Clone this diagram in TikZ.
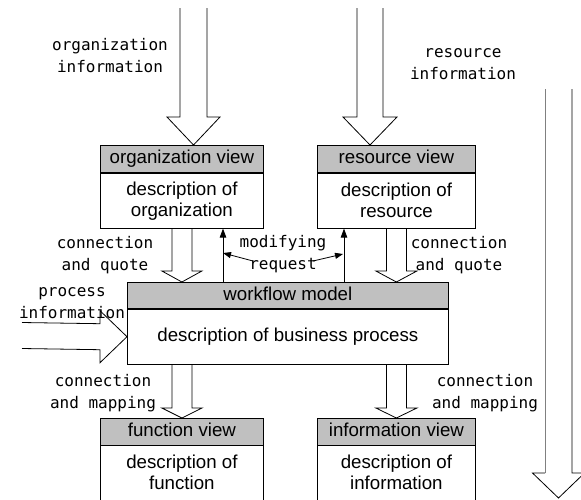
\documentclass[tikz,border=0pt]{standalone}
\usepackage{fontspec}
\setmainfont{Liberation Sans}
\setmonofont{DejaVu Sans Mono}
\usetikzlibrary{calc,arrows.meta}

\definecolor{hdrgray}{RGB}{192,192,192}
\newcommand\boxfont{\fontsize{18.7}{21}\selectfont}
\newcommand\lblfont{\ttfamily\fontsize{16}{22}\selectfont}

% hollow block arrow pointing down: #1 start, #2 tip, #3 shaft half width,
% #4 head half width, #5 head length
\newcommand\fatdown[5]{%
  \draw[fat] ($(#1)+(-#3,0)$) -- ($(#2)+(-#3,-#5)$) -- ($(#2)+(-#4,-#5)$)
    -- (#2) -- ($(#2)+(#4,-#5)$) -- ($(#2)+(#3,-#5)$) -- ($(#1)+(#3,0)$);}

\begin{document}
\begin{tikzpicture}[x=1pt,y=-1pt,line width=0.8pt,
  hdr/.style={draw,fill=hdrgray,inner sep=0pt,font=\boxfont,anchor=north west,
    minimum height=27pt,text height=13.5pt,text depth=3.5pt},
  bodybox/.style={draw,fill=white,inner sep=0pt,font=\boxfont,align=center,anchor=north},
  lbl/.style={font=\lblfont,align=center,inner sep=0pt},
  fat/.style={draw,line join=miter},
  tip/.style={-{Triangle[length=9pt,width=6.5pt]}},
  smalltip/.style={-{Triangle[length=8pt,width=6pt]}}]
\useasboundingbox (0,0) rectangle (581,499);

% view boxes
\node[hdr,minimum width=163pt] (orghead) at (100,145) {organization view};
\node[bodybox,minimum width=163pt,minimum height=55pt] (orgbody) at (orghead.south)
  {description of\\organization};
\node[hdr,minimum width=158pt] (reshead) at (317,145) {resource view};
\node[bodybox,minimum width=158pt,minimum height=55pt] (resbody) at (reshead.south)
  {description of\\resource};
\node[hdr,minimum width=321pt,minimum height=26pt] (wfhead) at (127,282) {workflow model};
\node[bodybox,minimum width=321pt,minimum height=55pt] (wfbody) at (wfhead.south)
  {description of business process};
\node[hdr,minimum width=163pt] (funhead) at (100,418) {function view};
\node[bodybox,draw=none,minimum width=163pt,minimum height=52pt] (funbody) at (funhead.south)
  {description of\\function};
\draw (funbody.north west) -- ++(0,70) (funbody.north east) -- ++(0,70);
\node[hdr,minimum width=158pt] (infohead) at (317,418) {information view};
\node[bodybox,draw=none,minimum width=158pt,minimum height=52pt] (infobody) at (infohead.south)
  {description of\\information};
\draw (infobody.north west) -- ++(0,70) (infobody.north east) -- ++(0,70);

% incoming information
\coordinate (oitop) at (193.5,8);
\coordinate (oitip) at (oitop |- orghead.north);
\fatdown{oitop}{oitip}{13.5}{26.5}{28}
\coordinate (ritop) at (370,8);
\coordinate (ritip) at (ritop |- reshead.north);
\fatdown{ritop}{ritip}{13}{27}{28}

% connection and quote
\coordinate (cqltip) at (orgbody.south |- wfhead.north);
\fatdown{orgbody.south}{cqltip}{10}{20}{11}
\coordinate (cqrtip) at (resbody.south |- wfhead.north);
\fatdown{resbody.south}{cqrtip}{10}{20.5}{11}

% connection and mapping
\coordinate (cmlstart) at (wfbody.south -| funhead.north);
\fatdown{cmlstart}{funhead.north}{10}{20}{10}
\coordinate (cmrstart) at (wfbody.south -| infohead.north);
\fatdown{cmrstart}{infohead.north}{10}{20.5}{10}

% process information
\coordinate (pstart) at (22,335.5);
\draw[fat] ($(pstart)+(0,-13)$) -- ($(wfbody.west)+(-27,-13)$) -- ($(wfbody.west)+(-27,-26)$)
  -- (wfbody.west) -- ($(wfbody.west)+(-27,26)$) -- ($(wfbody.west)+(-27,13)$)
  -- ($(pstart)+(0,13)$);

% long arrow on the right
\coordinate (bigtop) at (558.5,89);
\coordinate (bigtip) at (558.5,498);
\draw[gray] ($(bigtop)+(-13.5,0)$) -- ($(bigtip)+(-13.5,-25)$);
\draw[fat] ($(bigtip)+(-13.5,-25)$) -- ($(bigtip)+(-26,-25)$) -- (bigtip)
  -- ($(bigtip)+(26,-25)$) -- ($(bigtip)+(13.5,-25)$) -- ($(bigtop)+(13.5,0)$);

% modifying request
\coordinate (ml) at (223,0);
\coordinate (mr) at (344,0);
\draw[tip] (ml |- wfhead.north) -- (ml |- orgbody.south);
\draw[tip] (mr |- wfhead.north) -- (mr |- resbody.south);

% labels
\node[lbl] (orginfo) at (110,56) {organization\\information};
\node[lbl] (resinfo) at (463,64) {resource\\information};
\node[lbl] (cq1) at (105,255) {connection\\and quote};
\node[lbl] (cq2) at (459,255) {connection\\and quote};
\node[lbl] (procinfo) at (72,303) {process\\information};
\node[lbl] (modreq) at (283,254) {modifying\\request};
\node[lbl] (cm1) at (103,393) {connection\\and mapping};
\node[lbl] (cm2) at (485,393) {connection\\and mapping};

\coordinate (mra) at (253,261);
\coordinate (mrb) at (313,261);
\draw[smalltip] (mra) -- (ml |- 0,253);
\draw[smalltip] (mrb) -- ($(mr |- 0,254)+(-1,0)$);
\end{tikzpicture}
\end{document}
